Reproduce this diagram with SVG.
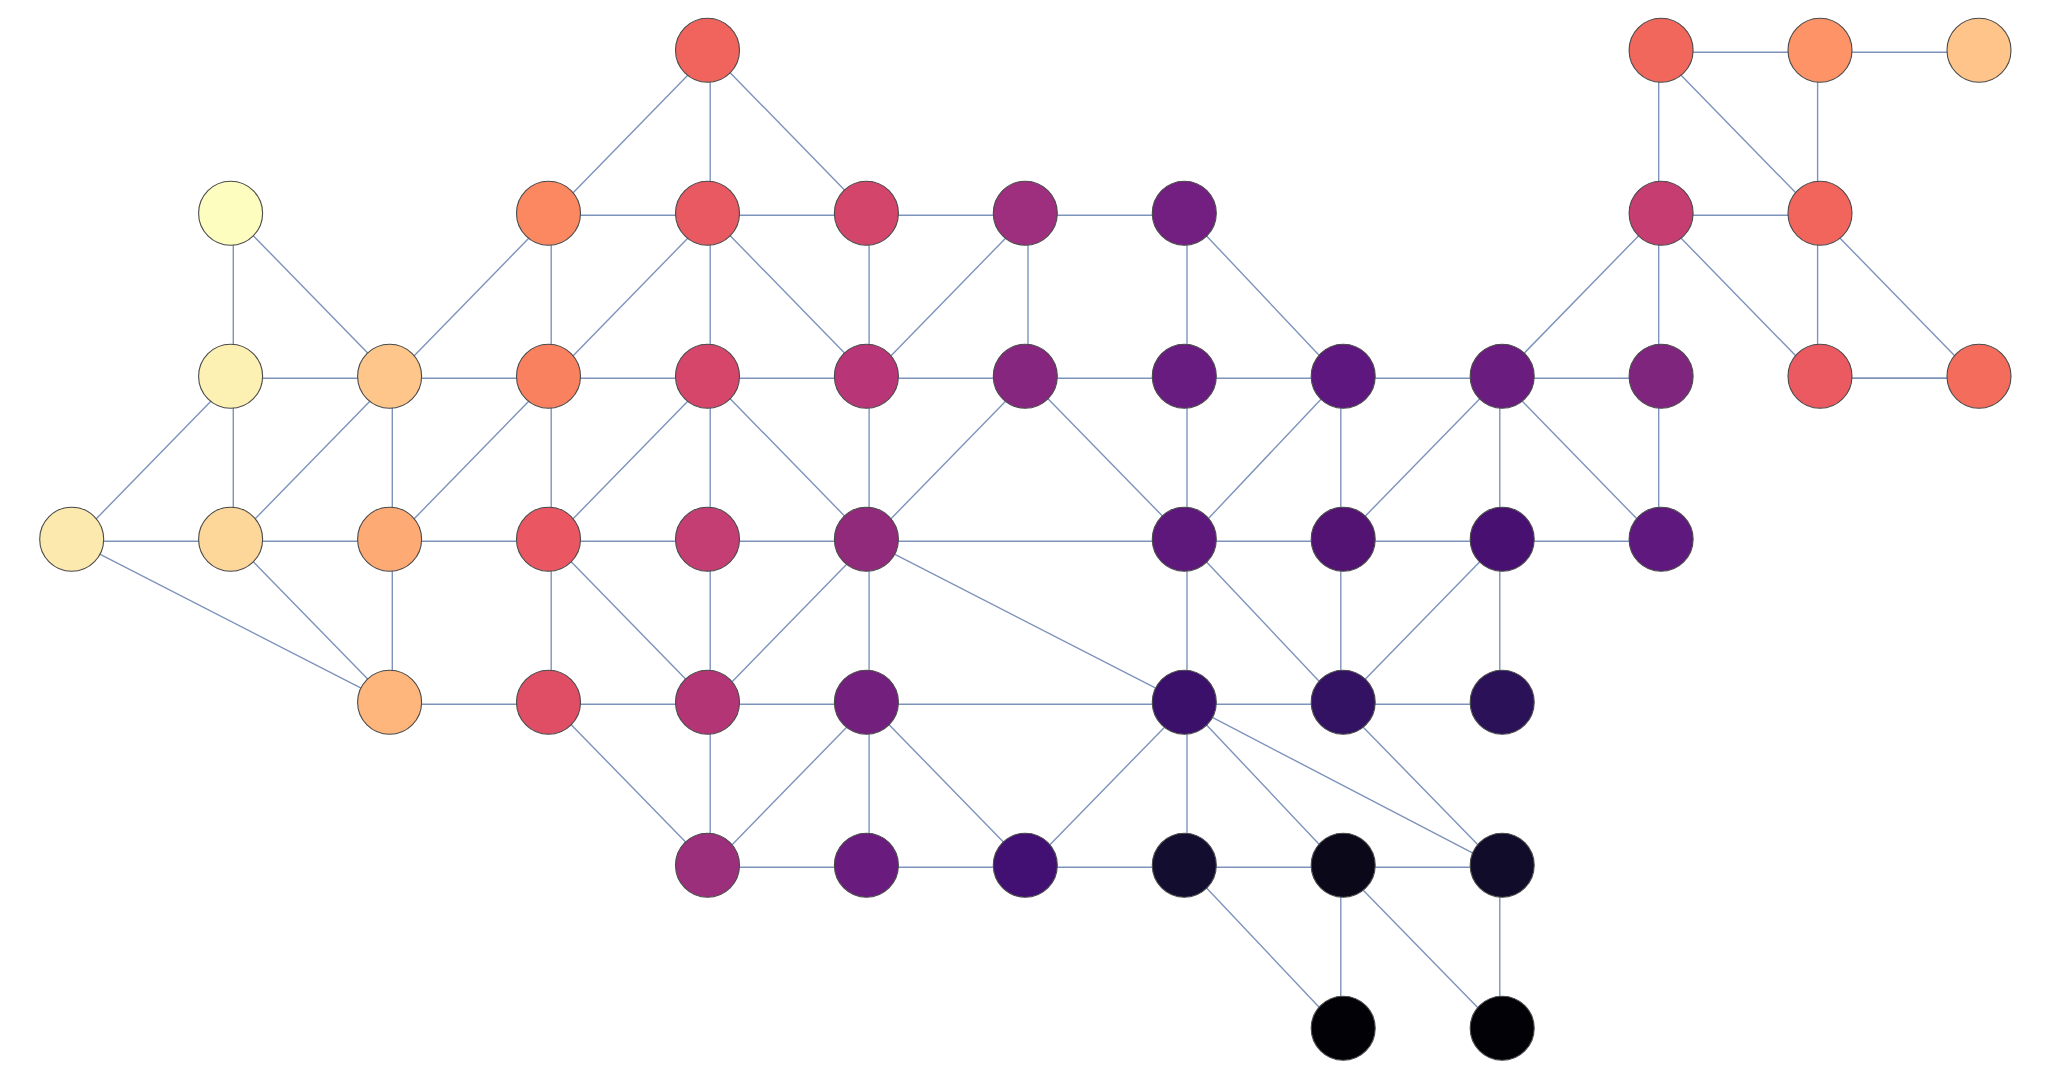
<svg xmlns="http://www.w3.org/2000/svg" width="2045" height="1077" viewBox="0 0 2045 1077">
  <style>
    .edges line { stroke: #7d93bc; stroke-width: 1.4; fill: none; }
    .node circle { stroke: #4a4a4a; stroke-width: 1.1; }
  </style>
  <rect width="2045" height="1077" fill="#ffffff"/>
  <g id="edges" class="edges">
    <line x1="710.2" y1="52.2" x2="551.2" y2="215.2"/>
    <line x1="710.2" y1="52.2" x2="710.2" y2="215.2"/>
    <line x1="710.2" y1="52.2" x2="869.1" y2="215.2"/>
    <line x1="551.2" y1="215.2" x2="710.2" y2="215.2"/>
    <line x1="710.2" y1="215.2" x2="869.1" y2="215.2"/>
    <line x1="869.1" y1="215.2" x2="1028" y2="215.2"/>
    <line x1="1028" y1="215.2" x2="1187" y2="215.2"/>
    <line x1="233.3" y1="215.2" x2="233.3" y2="378.2"/>
    <line x1="233.3" y1="215.2" x2="392.3" y2="378.2"/>
    <line x1="551.2" y1="215.2" x2="392.3" y2="378.2"/>
    <line x1="551.2" y1="215.2" x2="551.2" y2="378.2"/>
    <line x1="710.2" y1="215.2" x2="551.2" y2="378.2"/>
    <line x1="710.2" y1="215.2" x2="710.2" y2="378.2"/>
    <line x1="710.2" y1="215.2" x2="869.1" y2="378.2"/>
    <line x1="869.1" y1="215.2" x2="869.1" y2="378.2"/>
    <line x1="1028" y1="215.2" x2="869.1" y2="378.2"/>
    <line x1="1028" y1="215.2" x2="1028" y2="378.2"/>
    <line x1="1187" y1="215.2" x2="1187" y2="378.2"/>
    <line x1="1187" y1="215.2" x2="1340.8" y2="378.2"/>
    <line x1="233.3" y1="378.2" x2="392.3" y2="378.2"/>
    <line x1="392.3" y1="378.2" x2="551.2" y2="378.2"/>
    <line x1="551.2" y1="378.2" x2="710.2" y2="378.2"/>
    <line x1="710.2" y1="378.2" x2="869.1" y2="378.2"/>
    <line x1="869.1" y1="378.2" x2="1028" y2="378.2"/>
    <line x1="1028" y1="378.2" x2="1187" y2="378.2"/>
    <line x1="1187" y1="378.2" x2="1340.8" y2="378.2"/>
    <line x1="1340.8" y1="378.2" x2="1499.8" y2="378.2"/>
    <line x1="1499.8" y1="378.2" x2="1658.7" y2="378.2"/>
    <line x1="1817.6" y1="378.2" x2="1976.6" y2="378.2"/>
    <line x1="233.3" y1="378.2" x2="74.4" y2="541.2"/>
    <line x1="233.3" y1="378.2" x2="233.3" y2="541.2"/>
    <line x1="392.3" y1="378.2" x2="233.3" y2="541.2"/>
    <line x1="392.3" y1="378.2" x2="392.3" y2="541.2"/>
    <line x1="551.2" y1="378.2" x2="392.3" y2="541.2"/>
    <line x1="551.2" y1="378.2" x2="551.2" y2="541.2"/>
    <line x1="710.2" y1="378.2" x2="551.2" y2="541.2"/>
    <line x1="710.2" y1="378.2" x2="710.2" y2="541.2"/>
    <line x1="710.2" y1="378.2" x2="869.1" y2="541.2"/>
    <line x1="869.1" y1="378.2" x2="869.1" y2="541.2"/>
    <line x1="1028" y1="378.2" x2="869.1" y2="541.2"/>
    <line x1="1028" y1="378.2" x2="1187" y2="541.2"/>
    <line x1="1187" y1="378.2" x2="1187" y2="541.2"/>
    <line x1="1340.8" y1="378.2" x2="1187" y2="541.2"/>
    <line x1="1340.8" y1="378.2" x2="1340.8" y2="541.2"/>
    <line x1="1499.8" y1="378.2" x2="1340.8" y2="541.2"/>
    <line x1="1499.8" y1="378.2" x2="1499.8" y2="541.2"/>
    <line x1="1499.8" y1="378.2" x2="1658.7" y2="541.2"/>
    <line x1="1658.7" y1="378.2" x2="1658.7" y2="541.2"/>
    <line x1="1658.7" y1="215.2" x2="1499.8" y2="378.2"/>
    <line x1="74.4" y1="541.2" x2="233.3" y2="541.2"/>
    <line x1="233.3" y1="541.2" x2="392.3" y2="541.2"/>
    <line x1="392.3" y1="541.2" x2="551.2" y2="541.2"/>
    <line x1="551.2" y1="541.2" x2="710.2" y2="541.2"/>
    <line x1="710.2" y1="541.2" x2="869.1" y2="541.2"/>
    <line x1="869.1" y1="541.2" x2="1187" y2="541.2"/>
    <line x1="1187" y1="541.2" x2="1340.8" y2="541.2"/>
    <line x1="1340.8" y1="541.2" x2="1499.8" y2="541.2"/>
    <line x1="1499.8" y1="541.2" x2="1658.7" y2="541.2"/>
    <line x1="74.4" y1="541.2" x2="392.3" y2="704.2"/>
    <line x1="233.3" y1="541.2" x2="392.3" y2="704.2"/>
    <line x1="392.3" y1="541.2" x2="392.3" y2="704.2"/>
    <line x1="551.2" y1="541.2" x2="551.2" y2="704.2"/>
    <line x1="551.2" y1="541.2" x2="710.2" y2="704.2"/>
    <line x1="710.2" y1="541.2" x2="710.2" y2="704.2"/>
    <line x1="869.1" y1="541.2" x2="710.2" y2="704.2"/>
    <line x1="869.1" y1="541.2" x2="869.1" y2="704.2"/>
    <line x1="869.1" y1="541.2" x2="1187" y2="704.2"/>
    <line x1="1187" y1="541.2" x2="1187" y2="704.2"/>
    <line x1="1187" y1="541.2" x2="1340.8" y2="704.2"/>
    <line x1="1340.8" y1="541.2" x2="1340.8" y2="704.2"/>
    <line x1="1499.8" y1="541.2" x2="1340.8" y2="704.2"/>
    <line x1="1499.8" y1="541.2" x2="1499.8" y2="704.2"/>
    <line x1="392.3" y1="704.2" x2="551.2" y2="704.2"/>
    <line x1="551.2" y1="704.2" x2="710.2" y2="704.2"/>
    <line x1="710.2" y1="704.2" x2="869.1" y2="704.2"/>
    <line x1="869.1" y1="704.2" x2="1187" y2="704.2"/>
    <line x1="1187" y1="704.2" x2="1340.8" y2="704.2"/>
    <line x1="1340.8" y1="704.2" x2="1499.8" y2="704.2"/>
    <line x1="551.2" y1="704.2" x2="710.2" y2="867.2"/>
    <line x1="710.2" y1="704.2" x2="710.2" y2="867.2"/>
    <line x1="869.1" y1="704.2" x2="710.2" y2="867.2"/>
    <line x1="869.1" y1="704.2" x2="869.1" y2="867.2"/>
    <line x1="869.1" y1="704.2" x2="1028" y2="867.2"/>
    <line x1="1187" y1="704.2" x2="1028" y2="867.2"/>
    <line x1="1187" y1="704.2" x2="1187" y2="867.2"/>
    <line x1="1187" y1="704.2" x2="1340.8" y2="867.2"/>
    <line x1="1187" y1="704.2" x2="1499.8" y2="867.2"/>
    <line x1="1340.8" y1="704.2" x2="1499.8" y2="867.2"/>
    <line x1="710.2" y1="867.2" x2="869.1" y2="867.2"/>
    <line x1="869.1" y1="867.2" x2="1028" y2="867.2"/>
    <line x1="1028" y1="867.2" x2="1187" y2="867.2"/>
    <line x1="1187" y1="867.2" x2="1340.8" y2="867.2"/>
    <line x1="1340.8" y1="867.2" x2="1499.8" y2="867.2"/>
    <line x1="1187" y1="867.2" x2="1340.8" y2="1030.2"/>
    <line x1="1340.8" y1="867.2" x2="1340.8" y2="1030.2"/>
    <line x1="1340.8" y1="867.2" x2="1499.8" y2="1030.2"/>
    <line x1="1499.8" y1="867.2" x2="1499.8" y2="1030.2"/>
    <line x1="1658.7" y1="52.2" x2="1817.6" y2="52.2"/>
    <line x1="1817.6" y1="52.2" x2="1976.6" y2="52.2"/>
    <line x1="1658.7" y1="52.2" x2="1658.7" y2="215.2"/>
    <line x1="1658.7" y1="52.2" x2="1817.6" y2="215.2"/>
    <line x1="1817.6" y1="52.2" x2="1817.6" y2="215.2"/>
    <line x1="1658.7" y1="215.2" x2="1817.6" y2="215.2"/>
    <line x1="1658.7" y1="215.2" x2="1658.7" y2="378.2"/>
    <line x1="1658.7" y1="215.2" x2="1817.6" y2="378.2"/>
    <line x1="1817.6" y1="215.2" x2="1817.6" y2="378.2"/>
    <line x1="1817.6" y1="215.2" x2="1976.6" y2="378.2"/>
    <line x1="1817.6" y1="378.2" x2="1976.6" y2="378.2"/>
  </g>
  <g id="nodes">
    <g id="n4_0" class="node"><circle cx="707.5" cy="50.2" r="32" fill="#f1645d"/></g>
    <g id="n10_0" class="node"><circle cx="1661.1" cy="50.2" r="32" fill="#f2675c"/></g>
    <g id="n11_0" class="node"><circle cx="1820" cy="50.2" r="32" fill="#fd9366"/></g>
    <g id="n12_0" class="node"><circle cx="1979" cy="50.2" r="32" fill="#fec489"/></g>
    <g id="n1_1" class="node"><circle cx="230.6" cy="213.2" r="32" fill="#fcfdbf"/></g>
    <g id="n3_1" class="node"><circle cx="548.5" cy="213.2" r="32" fill="#fb8861"/></g>
    <g id="n4_1" class="node"><circle cx="707.5" cy="213.2" r="32" fill="#e85962"/></g>
    <g id="n5_1" class="node"><circle cx="866.4" cy="213.2" r="32" fill="#d4456c"/></g>
    <g id="n6_1" class="node"><circle cx="1025.3" cy="213.2" r="32" fill="#9e2f7f"/></g>
    <g id="n7_1" class="node"><circle cx="1184.3" cy="213.2" r="32" fill="#721f81"/></g>
    <g id="n10_1" class="node"><circle cx="1661.1" cy="213.2" r="32" fill="#c63d72"/></g>
    <g id="n11_1" class="node"><circle cx="1820" cy="213.2" r="32" fill="#f1655d"/></g>
    <g id="n1_2" class="node"><circle cx="230.6" cy="376.2" r="32" fill="#fcf1b3"/></g>
    <g id="n2_2" class="node"><circle cx="389.6" cy="376.2" r="32" fill="#fec68a"/></g>
    <g id="n3_2" class="node"><circle cx="548.5" cy="376.2" r="32" fill="#f9815f"/></g>
    <g id="n4_2" class="node"><circle cx="707.5" cy="376.2" r="32" fill="#d6466b"/></g>
    <g id="n5_2" class="node"><circle cx="866.4" cy="376.2" r="32" fill="#b83677"/></g>
    <g id="n6_2" class="node"><circle cx="1025.3" cy="376.2" r="32" fill="#86267e"/></g>
    <g id="n7_2" class="node"><circle cx="1184.3" cy="376.2" r="32" fill="#691c7f"/></g>
    <g id="n8_2" class="node"><circle cx="1343.2" cy="376.2" r="32" fill="#5d177e"/></g>
    <g id="n9_2" class="node"><circle cx="1502.2" cy="376.2" r="32" fill="#6a1c7f"/></g>
    <g id="n10_2" class="node"><circle cx="1661.1" cy="376.2" r="32" fill="#80257e"/></g>
    <g id="n11_2" class="node"><circle cx="1820" cy="376.2" r="32" fill="#eb5a60"/></g>
    <g id="n12_2" class="node"><circle cx="1979" cy="376.2" r="32" fill="#f46d5c"/></g>
    <g id="n0_3" class="node"><circle cx="71.7" cy="539.2" r="32" fill="#fce9ad"/></g>
    <g id="n1_3" class="node"><circle cx="230.6" cy="539.2" r="32" fill="#fdd799"/></g>
    <g id="n2_3" class="node"><circle cx="389.6" cy="539.2" r="32" fill="#fdaa74"/></g>
    <g id="n3_3" class="node"><circle cx="548.5" cy="539.2" r="32" fill="#ea5763"/></g>
    <g id="n4_3" class="node"><circle cx="707.5" cy="539.2" r="32" fill="#c43d73"/></g>
    <g id="n5_3" class="node"><circle cx="866.4" cy="539.2" r="32" fill="#912a7b"/></g>
    <g id="n7_3" class="node"><circle cx="1184.3" cy="539.2" r="32" fill="#5e187c"/></g>
    <g id="n8_3" class="node"><circle cx="1343.2" cy="539.2" r="32" fill="#521372"/></g>
    <g id="n9_3" class="node"><circle cx="1502.2" cy="539.2" r="32" fill="#471071"/></g>
    <g id="n10_3" class="node"><circle cx="1661.1" cy="539.2" r="32" fill="#5e187e"/></g>
    <g id="n2_4" class="node"><circle cx="389.6" cy="702.2" r="32" fill="#feb67c"/></g>
    <g id="n3_4" class="node"><circle cx="548.5" cy="702.2" r="32" fill="#e04e66"/></g>
    <g id="n4_4" class="node"><circle cx="707.5" cy="702.2" r="32" fill="#b43576"/></g>
    <g id="n5_4" class="node"><circle cx="866.4" cy="702.2" r="32" fill="#731f7d"/></g>
    <g id="n7_4" class="node"><circle cx="1184.3" cy="702.2" r="32" fill="#3b106a"/></g>
    <g id="n8_4" class="node"><circle cx="1343.2" cy="702.2" r="32" fill="#331163"/></g>
    <g id="n9_4" class="node"><circle cx="1502.2" cy="702.2" r="32" fill="#2a1158"/></g>
    <g id="n4_5" class="node"><circle cx="707.5" cy="865.2" r="32" fill="#9b2f7c"/></g>
    <g id="n5_5" class="node"><circle cx="866.4" cy="865.2" r="32" fill="#6a1c7e"/></g>
    <g id="n6_5" class="node"><circle cx="1025.3" cy="865.2" r="32" fill="#420f72"/></g>
    <g id="n7_5" class="node"><circle cx="1184.3" cy="865.2" r="32" fill="#130d30"/></g>
    <g id="n8_5" class="node"><circle cx="1343.2" cy="865.2" r="32" fill="#0a0819"/></g>
    <g id="n9_5" class="node"><circle cx="1502.2" cy="865.2" r="32" fill="#120c2b"/></g>
    <g id="n8_6" class="node"><circle cx="1343.2" cy="1028.2" r="32" fill="#020106"/></g>
    <g id="n9_6" class="node"><circle cx="1502.2" cy="1028.2" r="32" fill="#020106"/></g>
  </g>
</svg>
